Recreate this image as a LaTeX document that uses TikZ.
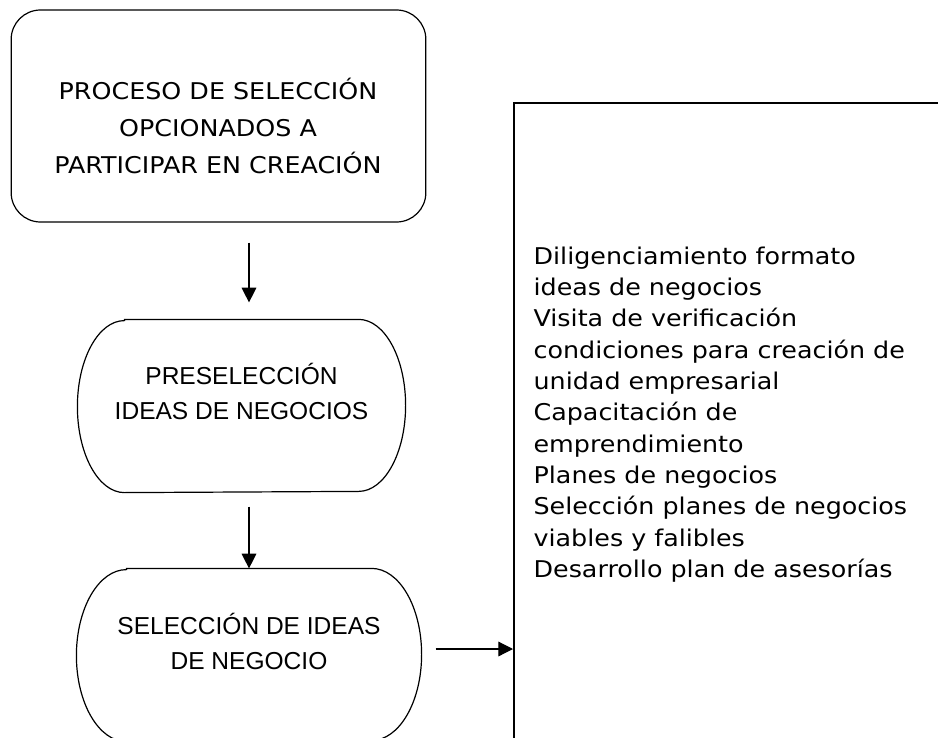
\documentclass[tikz,border=0pt]{standalone}
\usepackage{fontspec}
\usetikzlibrary{arrows.meta}
\newfontfamily\verdfont[FakeStretch=1.1]{DejaVu Sans}
\newfontfamily\arialfont{Liberation Sans}
\newcommand{\sidearcs}[2]{\draw ([xshift=#2]#1.north west) -- ([xshift=-#2]#1.north east)
  arc[start angle=90, end angle=-90, x radius=#2, y radius=64.5pt] -- ([xshift=#2]#1.south west)
  arc[start angle=270, end angle=90, x radius=#2, y radius=64.5pt] -- cycle;}
\begin{document}
\begin{tikzpicture}[x=0.75pt, y=-0.75pt, line width=0.9pt,
    flecha/.style={-{Triangle[length=11pt,width=11pt]}, line width=0.9pt},
    fase/.style={minimum height=129pt, inner sep=0pt},
    arialtxt/.style={align=center, font=\arialfont\fontsize{18.4}{26.25}\selectfont}]
  \useasboundingbox (0,0) rectangle (938,738);
  \clip (0,0) rectangle (938,738);
  \node[draw, rounded corners=22pt, minimum width=311pt, minimum height=159pt] (proceso) at (218.5,116) {};
  \node[align=center, font=\verdfont\fontsize{17.3}{28}\selectfont] (procesotxt) at (218,126)
    {PROCESO DE SELECCIÓN\\OPCIONADOS A\\PARTICIPAR EN CREACIÓN};
  \node[fase, minimum width=245.25pt] (pre) at (241.5,406) {};
  \sidearcs{pre}{35.25pt}
  \node[arialtxt] (pretxt) at (241.5,391) {PRESELECCIÓN\\IDEAS DE NEGOCIOS};
  \node[fase, minimum width=258pt] (sel) at (249,655) {};
  \sidearcs{sel}{37.5pt}
  \node[arialtxt] (seltxt) at (249,641.5) {SELECCIÓN DE IDEAS\\DE NEGOCIO};
  \node[draw, line width=1.2pt, anchor=north west, minimum width=450pt, minimum height=500pt] (etapas) at (513,102) {};
  \node[anchor=north west, inner sep=0pt, align=left, font=\verdfont\fontsize{17.3}{23.5}\selectfont] (etapastxt) at (533,246)
    {Diligenciamiento formato\\ideas de negocios\\Visita de verificación\\condiciones para creación de\\unidad empresarial\\Capacitación de\\emprendimiento\\Planes de negocios\\Selección planes de negocios\\viables y falibles\\Desarrollo plan de asesorías};
  \draw[flecha, shorten <=15pt, shorten >=12.75pt] (proceso.south -| sel.north) -- (pre.north -| sel.north);
  \draw[flecha, shorten <=10.5pt] (pre.south -| sel.north) -- (sel.north);
  \draw[flecha, shorten <=10.5pt] ([yshift=4.5pt]sel.east) -- ([yshift=4.5pt]sel.east -| etapas.west);
\end{tikzpicture}
\end{document}
